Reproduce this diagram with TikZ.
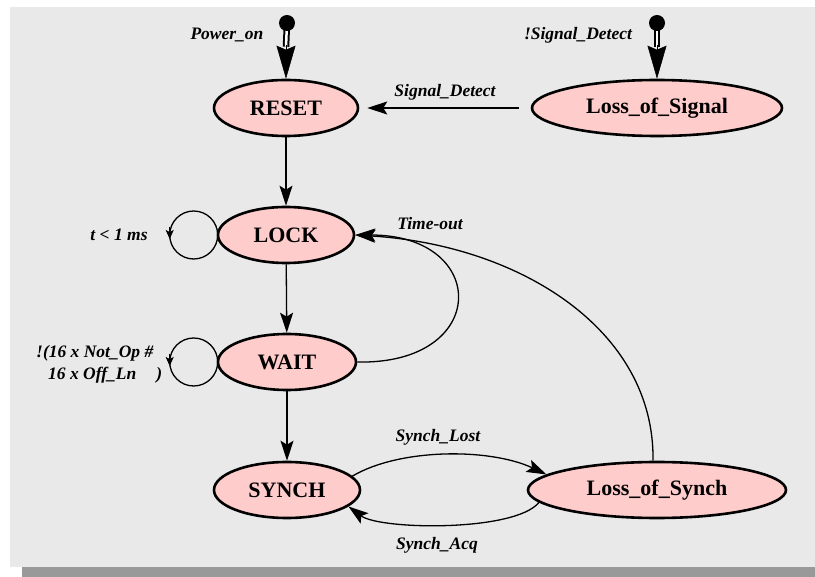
\documentclass[tikz,border=0pt]{standalone}
\usepackage{fontspec}
\setmainfont{Liberation Serif}
\usetikzlibrary{shapes.geometric,arrows.meta}
\pgfdeclarelayer{bglayer}
\pgfdeclarelayer{edgelayer}
\pgfsetlayers{bglayer,edgelayer,main}
\definecolor{bgcol}{RGB}{233,233,233}
\definecolor{shadowcol}{RGB}{153,153,153}
\definecolor{statefill}{RGB}{255,204,204}
\tikzset{
  state/.style={ellipse, draw=black, line width=2.6pt, fill=statefill, inner sep=0pt,
    minimum height=56pt, font=\fontsize{22}{26}\selectfont\bfseries},
  lbl/.style={font=\fontsize{17.5}{22}\selectfont\bfseries\itshape, inner sep=0pt},
  trans/.style={line width=1.3pt, -{Stealth[length=20pt,width=13pt,inset=4pt]}},
  loopline/.style={line width=1.3pt},
  loophead/.style={line width=0.8pt, -{Stealth[length=9pt,width=8pt,inset=2pt]}},
  initdot/.style={circle, fill=black, minimum size=16pt, inner sep=0pt},
  shaft/.style={draw=black, double=white, line width=2pt, double distance=2.5pt},
  inithead/.style={line width=0.5pt, -{Stealth[length=33pt,width=19pt,inset=4pt]}},
}
\begin{document}
\begin{tikzpicture}[x=1pt,y=-1pt]
\useasboundingbox (0,0) rectangle (815,577);
\begin{pgfonlayer}{bglayer}
  \fill[bgcol] (10,7) rectangle (815,567);
  \fill[shadowcol] (22,567) rectangle (815,577);
\end{pgfonlayer}

% states
\node[state, minimum width=144pt] (reset) at (286,108) {RESET};
\node[state, minimum width=250pt] (lossig) at (657,108) {Loss\_of\_Signal};
\node[state, minimum width=136pt] (lock) at (286,235) {LOCK};
\node[state, minimum width=138pt] (wait) at (287,362) {WAIT};
\node[state, minimum width=146pt] (synch) at (287,490) {SYNCH};
\node[state, minimum width=258pt] (lossynch) at (657,490) {Loss\_of\_Synch};

% initial pseudo states
\node[initdot] (init1) at (287,23) {};
\node[initdot] (init2) at (657,23) {};

% loop helper points
\coordinate (lockC) at ([xshift=-23pt]lock.west);
\coordinate (lockL) at ([xshift=-47pt]lock.west);
\coordinate (waitC) at ([xshift=-23pt]wait.west);
\coordinate (waitL) at ([xshift=-47pt]wait.west);

% labels
\node[lbl] (lpower) at (227,35) {Power\_on};
\node[lbl] (lnsig) at (578,35) {!Signal\_Detect};
\node[lbl] (lsig) at (445,92) {Signal\_Detect};
\node[lbl] (lt) at (119,235) {t < 1 ms};
\node[lbl, align=left, anchor=west] (lwait) at (36,364)
  {!(16 x Not\_Op \#\\\hspace*{12pt}16 x Off\_Ln\hspace{20pt})};
\node[lbl] (ltime) at (430,224) {Time-out};
\node[lbl] (llost) at (438,437) {Synch\_Lost};
\node[lbl] (lacq) at (437,545) {Synch\_Acq};

\begin{pgfonlayer}{edgelayer}
  % initial arrows
  \draw[shaft] (init1.center) -- ([yshift=32pt]reset.north);
  \draw[inithead] ([yshift=34pt]reset.north) -- (reset.north);
  \draw[shaft] (init2.center) -- ([yshift=32pt]lossig.north);
  \draw[inithead] ([yshift=34pt]lossig.north) -- (lossig.north);
  % transitions
  \draw[trans, shorten <=12pt, shorten >=8pt] (lossig) -- (reset);
  \draw[trans] (reset) -- (lock);
  \draw[trans] (lock) -- (wait);
  \draw[trans] (wait) -- (synch);
  \draw[trans] (wait.east) .. controls (490,365) and (490,235) .. (lock.east);
  \draw[trans] ([xshift=-4pt]lossynch.north) .. controls (655,330) and (520,245) .. (lock.east);
  \draw[trans] (synch.12) .. controls (400,448) and (490,448) .. (lossynch.172);
  \draw[trans] (lossynch.186) .. controls (515,532) and (380,530) .. (synch.-15);
  % self loops
  \draw[loopline] (lockC) circle[radius=24pt];
  \draw[loophead] ([yshift=8pt]lockL) -- ([yshift=-4pt]lockL);
  \draw[loopline] (waitC) circle[radius=24pt];
  \draw[loophead] ([yshift=8pt]waitL) -- ([yshift=-4pt]waitL);
\end{pgfonlayer}
\end{tikzpicture}
\end{document}
